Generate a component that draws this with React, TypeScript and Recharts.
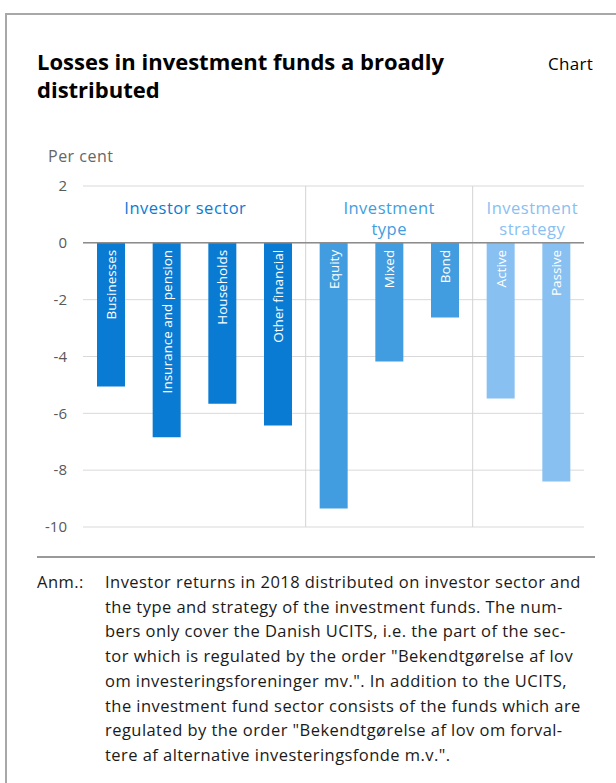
import { BarChart, Bar, XAxis, YAxis, CartesianGrid, ReferenceLine, ReferenceArea, LabelList, Cell } from 'recharts';

const categories = ['Businesses', 'Insurance and pension', 'Households', 'Other financial', 'Equity', 'Mixed', 'Bond', 'Active', 'Passive'];
const returns2018 = [-5.06, -6.84, -5.66, -6.43, -9.35, -4.18, -2.63, -5.48, -8.4];
const groupIndex = [0, 0, 0, 0, 1, 1, 1, 2, 2];
const groupLabels = [['Investor sector'], ['Investment', 'type'], ['Investment', 'strategy']];
const groupFirst = ['Businesses', 'Equity', 'Active'];
const groupLast = ['Other financial', 'Bond', 'Passive'];
const yTicks = [2, 0, -2, -4, -6, -8, -10];

const COLORS = ['#0a7bd3', '#419de0', '#88c0f2'];
const FONT = '"Open Sans", sans-serif';
const GROUP_DX = [-9, 0, 4];

const data = categories.map((name, i) => ({ name, value: returns2018[i], group: groupIndex[i] }));

const BarLabel = (props: any) => {
  const { x, y, width, height, value } = props;
  const top = Math.min(Number(y), Number(y) + Number(height));
  const cx = Number(x) + Number(width) / 2;
  const ty = top + 7;
  return (
    <text x={cx} y={ty} transform={`rotate(-90 ${cx} ${ty})`} textAnchor="end" dominantBaseline="central"
      fill="#fff" fontSize={13.5} fontFamily={FONT}>
      {value}
    </text>
  );
};

const groupLabel = (g: number) => (props: any) => {
  const vb = props.viewBox || {};
  const cx = vb.x + vb.width / 2 + GROUP_DX[g];
  return (
    <text x={cx} y={vb.y + 21} textAnchor="middle" dominantBaseline="central" fill={COLORS[g]} fontSize={16.5}
      letterSpacing={0.5} fontFamily={FONT}>
      {groupLabels[g].map((line, i) => (
        <tspan key={i} x={cx} dy={i === 0 ? 0 : 21}>{line}</tspan>
      ))}
    </text>
  );
};

const noteStyle = { position: 'absolute' as const, top: 570, fontSize: 16.5, letterSpacing: 0.45, lineHeight: '24.7px', color: '#1a1a1a' };

export default function App() {
  return (
    <div style={{ position: 'absolute', left: 0, top: 0, width: 616, height: 783, overflow: 'hidden', background: '#fff', fontFamily: FONT }}>
      <div style={{ position: 'absolute', left: 5, top: 13, width: 700, height: 900, borderLeft: '2px solid #a8a8a8', borderTop: '2px solid #a8a8a8' }} />
      <div style={{ position: 'absolute', left: 37, top: 47, width: 470, fontSize: 22, fontWeight: 700, lineHeight: '28px', color: '#000' }}>
        Losses in investment funds a broadly distributed
      </div>
      <div style={{ position: 'absolute', left: 548, top: 52, fontSize: 17, letterSpacing: 0.3, color: '#000' }}>Chart</div>
      <div style={{ position: 'absolute', left: 48, top: 145, fontSize: 16, letterSpacing: 0.5, color: '#666' }}>Per cent</div>

      <BarChart width={616} height={560} data={data} style={{ position: 'absolute', left: 0, top: 0 }}
        margin={{ top: 186, right: 32, bottom: 33, left: 43 }}>
        <CartesianGrid vertical={false} stroke="#d9d9d9" />
        <XAxis dataKey="name" hide />
        <YAxis domain={[-10, 2]} ticks={yTicks} width={40} axisLine={false} tickLine={false} tickMargin={10}
          tick={{ fill: '#595959', fontSize: 15, fontFamily: FONT }} />
        {[0, 1, 2].map((g) => (
          <ReferenceArea key={g} x1={groupFirst[g]} x2={groupLast[g]} y1={0} y2={2} fill="none" fillOpacity={0} stroke="none"
            label={groupLabel(g)} />
        ))}
        <ReferenceLine x="Other financial" position="end" stroke="#d4d4d4" />
        <ReferenceLine x="Bond" position="end" stroke="#d4d4d4" />
        <ReferenceLine y={0} stroke="#8c8c8c" strokeWidth={1.5} />
        <Bar dataKey="value" barSize={28} isAnimationActive={false}>
          {data.map((d, i) => (
            <Cell key={i} fill={COLORS[d.group]} />
          ))}
          <LabelList dataKey="name" content={BarLabel} />
        </Bar>
      </BarChart>

      <div style={{ position: 'absolute', left: 37, top: 556, width: 558, height: 2, background: '#999' }} />
      <div style={{ ...noteStyle, left: 37 }}>Anm.:</div>
      <div style={{ ...noteStyle, left: 105, whiteSpace: 'nowrap' }}>
        Investor returns in 2018 distributed on investor sector and<br />
        the type and strategy of the investment funds. The num-<br />
        bers only cover the Danish UCITS, i.e. the part of the sec-<br />
        tor which is regulated by the order "Bekendtgørelse af lov<br />
        om investeringsforeninger mv.". In addition to the UCITS,<br />
        the investment fund sector consists of the funds which are<br />
        regulated by the order "Bekendtgørelse af lov om forval-<br />
        tere af alternative investeringsfonde m.v.".
      </div>
    </div>
  );
}
